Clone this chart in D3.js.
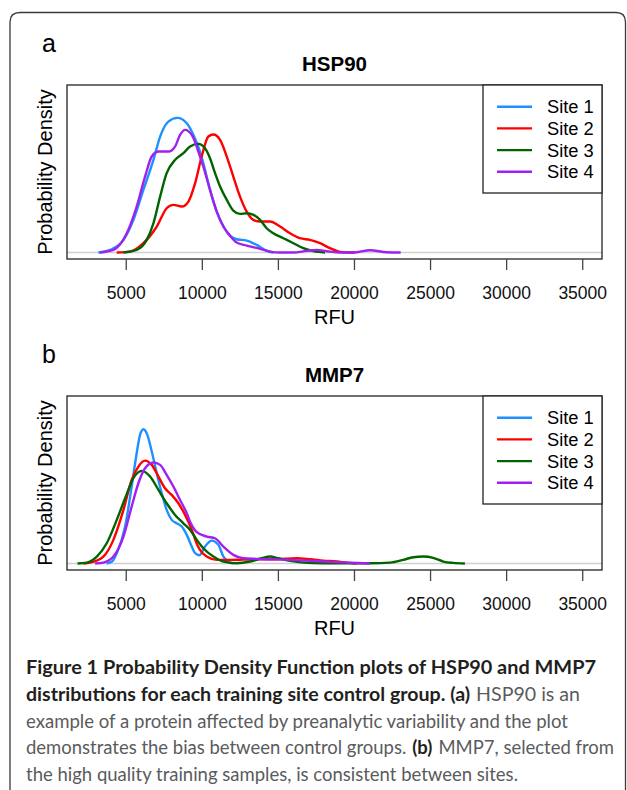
<!DOCTYPE html>
<html>
<head>
<meta charset="utf-8">
<script src="https://cdn.jsdelivr.net/npm/d3@7"></script>
<style>
  body { margin: 0; background: #fff; }
  svg { display: block; }
</style>
</head>
<body>
<svg id="graphic"></svg>
<script>

// Legend / series
const sites = ["Site 1", "Site 2", "Site 3", "Site 4"]
const siteColors = ["#1e90ff", "#ff0000", "#006400", "#a020f0"]

// x axis ticks (RFU)
const xTicks = [5000, 10000, 15000, 20000, 25000, 30000, 35000]

// density curves, [RFU, density (arbitrary units)]
const hsp90Site1 = [[3200,0],[3970,0.033],[4850,0.157],[5500,0.405],[6160,0.778],[6820,1.150],[7260,1.440],[7800,1.626],[8400,1.672],[9010,1.605],[9450,1.460],[9880,1.254],[10100,1.109],[10540,0.778],[10980,0.509],[11420,0.323],[11860,0.207],[12290,0.165],[12950,0.149],[13610,0.095],[14260,0.021],[14700,0]]
const hsp90Site2 = [[4410,0],[5290,0.012],[6160,0.116],[7040,0.323],[7690,0.550],[8130,0.592],[8680,0.571],[9120,0.633],[9560,0.861],[9990,1.192],[10430,1.440],[10760,1.465],[11200,1.398],[11640,1.192],[12070,0.943],[12510,0.695],[12950,0.509],[13390,0.405],[13830,0.385],[14480,0.385],[15140,0.323],[15800,0.240],[16450,0.178],[17110,0.157],[17770,0.116],[18430,0.054],[19080,0.008],[19740,0],[20070,0]]
const hsp90Site3 = [[4850,0],[5720,0.033],[6380,0.157],[6820,0.364],[7260,0.695],[7690,0.985],[8240,1.150],[8790,1.233],[9230,1.316],[9770,1.349],[10210,1.295],[10540,1.171],[10870,0.985],[11200,0.819],[11640,0.654],[12070,0.521],[12510,0.480],[12950,0.488],[13390,0.468],[13830,0.405],[14260,0.302],[14700,0.240],[15360,0.178],[16020,0.116],[16670,0.054],[17330,0.017],[18100,0]]
const hsp90Site4 = [[3310,0],[4190,0.033],[5070,0.240],[5720,0.571],[6270,0.943],[6710,1.192],[7150,1.254],[7800,1.254],[8240,1.316],[8570,1.460],[8900,1.523],[9340,1.460],[9880,1.192],[10100,1.067],[10540,0.778],[10980,0.509],[11420,0.323],[11860,0.207],[12290,0.124],[12950,0.087],[13830,0.046],[14480,0.012],[15140,0],[16020,0],[16890,0.021],[17550,0.033],[18210,0.017],[19080,0],[19960,0],[21050,0.029],[22150,0.004],[23070,0]]

const mmp7Site1 = [[3750,0],[4100,0.025],[4410,0.128],[4960,0.459],[5390,0.956],[5720,1.369],[5940,1.597],[6160,1.667],[6420,1.597],[6710,1.390],[7040,1.121],[7370,0.869],[7690,0.666],[8020,0.542],[8350,0.500],[8680,0.459],[9010,0.356],[9340,0.211],[9560,0.128],[9840,0.103],[10210,0.211],[10650,0.285],[11090,0.232],[11420,0.087],[11750,0.025],[12070,0]]
const mmp7Site2 = [[2220,0],[2660,0.012],[3530,0.087],[4190,0.294],[4850,0.666],[5390,1.038],[5830,1.204],[6270,1.278],[6710,1.225],[7150,1.080],[7580,0.935],[8020,0.852],[8460,0.749],[8900,0.604],[9340,0.420],[9660,0.250],[9880,0.170],[10320,0.087],[10980,0.046],[11860,0.046],[13610,0.054],[14920,0.054],[16240,0.066],[17110,0.054],[17990,0.037],[18860,0.025],[19520,0.012],[20180,0]]
const mmp7Site3 = [[1830,0],[2440,0.012],[3100,0.087],[3750,0.252],[4410,0.542],[4960,0.811],[5500,1.059],[6050,1.150],[6600,1.080],[7150,0.914],[7690,0.749],[8240,0.604],[8790,0.500],[9230,0.418],[9670,0.294],[10100,0.190],[10760,0.087],[11420,0.025],[12290,0.004],[13170,0.025],[13940,0.066],[14480,0.087],[15030,0.066],[15800,0.033],[16670,0.012],[17990,0.004],[21050,0.004],[22370,0.012],[23240,0.046],[23900,0.079],[24560,0.087],[25210,0.070],[25870,0.025],[26530,0.008],[27290,0]]
const mmp7Site4 = [[2990,0],[3530,0.012],[4190,0.087],[4850,0.335],[5390,0.707],[5830,0.997],[6270,1.183],[6820,1.254],[7260,1.225],[7690,1.101],[8130,0.956],[8570,0.790],[9010,0.625],[9230,0.520],[9670,0.390],[10320,0.335],[10870,0.314],[11420,0.211],[12070,0.108],[12730,0.066],[13610,0.058],[15800,0.046],[17990,0.025],[19520,0.012],[21050,0]]

const captionLines = [
    [["Figure 1 Probability Density Function plots of HSP90 and MMP7", true]],
    [["distributions for each training site control group. (a)", true], ["HSP90 is an", false]],
    [["example of a protein affected by preanalytic variability and the plot", false]],
    [["demonstrates the bias between control groups.", false], ["(b)", true], ["MMP7, selected from", false]],
    [["the high quality training samples, is consistent between sites.", false]]
]
const captionWidths = [570, 554, 542, 588, 492]


const W = 627
const H = 790
const boxLeft = 67, boxRight = 602, boxH = 174
const font = "'Liberation Sans', Arial, Helvetica, sans-serif"

const svg = d3.select("#graphic")
    .attr("width", W)
    .attr("height", H)

// outer frame (rounded corners at top)
svg.append("path")
    .attr("d", "M10,800 V22 Q10,12.5 20,12.5 H616 Q625.5,12.5 625.5,22 V800")
    .attr("fill", "none")
    .attr("stroke", "#3a3a3a")
    .attr("stroke-width", 1.3)

// x scale shared by both panels
const xScale = d3.scaleLinear()
    .domain([1140, 36300])
    .range([boxLeft, boxRight])

const panels = [
    {letter: "a", title: "HSP90", top: 85, series: [hsp90Site1, hsp90Site2, hsp90Site3, hsp90Site4]},
    {letter: "b", title: "MMP7", top: 396, series: [mmp7Site1, mmp7Site2, mmp7Site3, mmp7Site4]}
]

panels.forEach(p => drawPanel(p))

function drawPanel(p){

    const t = p.top
    const g = svg.append("g")

    const yScale = d3.scaleLinear()
        .domain([-0.08, 2.08])
        .range([t + boxH, t])

    // panel letter + title
    g.append("text")
        .attr("x", 49).attr("y", t - 33)
        .attr("text-anchor", "middle")
        .style("font", `25px ${font}`)
        .text(p.letter)

    g.append("text")
        .attr("x", (boxLeft + boxRight) / 2).attr("y", t - 14.3)
        .attr("text-anchor", "middle")
        .style("font", `bold 20.5px ${font}`)
        .text(p.title)

    // y label
    g.append("text")
        .attr("transform", `translate(52, ${t + boxH / 2}) rotate(-90)`)
        .attr("text-anchor", "middle")
        .style("font", `20px ${font}`)
        .text("Probability Density")

    // zero line
    g.append("line")
        .attr("x1", boxLeft).attr("x2", boxRight)
        .attr("y1", yScale(0)).attr("y2", yScale(0))
        .attr("stroke", "#d0d0d0")
        .attr("stroke-width", 1.6)

    // curves
    const line = d3.line()
        .x(d => xScale(d[0]))
        .y(d => yScale(d[1]))
        .curve(d3.curveMonotoneX)

    g.selectAll("path.curve")
        .data(p.series)
        .enter()
        .append("path")
        .attr("class", "curve")
        .attr("d", line)
        .attr("fill", "none")
        .attr("stroke", (d, i) => siteColors[i])
        .attr("stroke-width", 2.4)
        .attr("stroke-linejoin", "round")

    // box
    g.append("rect")
        .attr("x", boxLeft).attr("y", t)
        .attr("width", boxRight - boxLeft).attr("height", boxH)
        .attr("fill", "none")
        .attr("stroke", "#222")
        .attr("stroke-width", 1.3)

    // x axis
    const axis = g.append("g")
        .attr("transform", `translate(0, ${t + boxH})`)
        .call(d3.axisBottom(xScale).tickValues(xTicks).tickSize(11).tickFormat(d3.format("d")))

    axis.select(".domain").remove()
    axis.selectAll(".tick line").attr("stroke", "#444").attr("stroke-width", 1.3)
    axis.selectAll(".tick text")
        .attr("y", 40).attr("dy", 0)
        .attr("fill", "#111")
        .style("font", `17.5px ${font}`)

    g.append("text")
        .attr("x", (boxLeft + boxRight) / 2).attr("y", t + 239)
        .attr("text-anchor", "middle")
        .style("font", `20px ${font}`)
        .text("RFU")

    // legend
    const lg = g.append("g")
    lg.append("rect")
        .attr("x", 483).attr("y", t)
        .attr("width", boxRight - 483).attr("height", 108)
        .attr("fill", "#fff")
        .attr("stroke", "#222")
        .attr("stroke-width", 1.3)

    sites.forEach((s, i) => {
        const ly = t + 21.7 + i * 21.7
        lg.append("line")
            .attr("x1", 497).attr("x2", 532)
            .attr("y1", ly).attr("y2", ly)
            .attr("stroke", siteColors[i])
            .attr("stroke-width", 2.4)
        lg.append("text")
            .attr("x", 547).attr("y", ly + 6.5)
            .style("font", `18.3px ${font}`)
            .text(s)
    })
}

// caption: each part is its own text, sized so the line fits its width
const capFont = "Lato, 'Open Sans', sans-serif"
const spaceW = 6

captionLines.forEach((parts, i) => {
    const y = 674 + i * 26.75
    const nodes = parts.map(part => svg.append("text")
        .attr("y", y)
        .style("font-family", capFont)
        .style("font-size", "19px")
        .attr("font-weight", part[1] ? "bold" : "normal")
        .attr("fill", part[1] ? "#231f20" : "#5a5b5d")
        .text(part[0]))

    const natural = nodes.map(n => n.node().getComputedTextLength())
    const avail = captionWidths[i] - spaceW * (parts.length - 1)
    const k = avail / d3.sum(natural)

    let x = 26
    nodes.forEach((n, j) => {
        const w = natural[j] * k
        // shrink the font a little rather than squeezing glyphs too much
        n.style("font-size", (19 * Math.max(k, 0.94)) + "px")
            .attr("x", x)
            .attr("textLength", w)
            .attr("lengthAdjust", "spacingAndGlyphs")
        x += w + spaceW
    })
})

</script>
</body>
</html>
